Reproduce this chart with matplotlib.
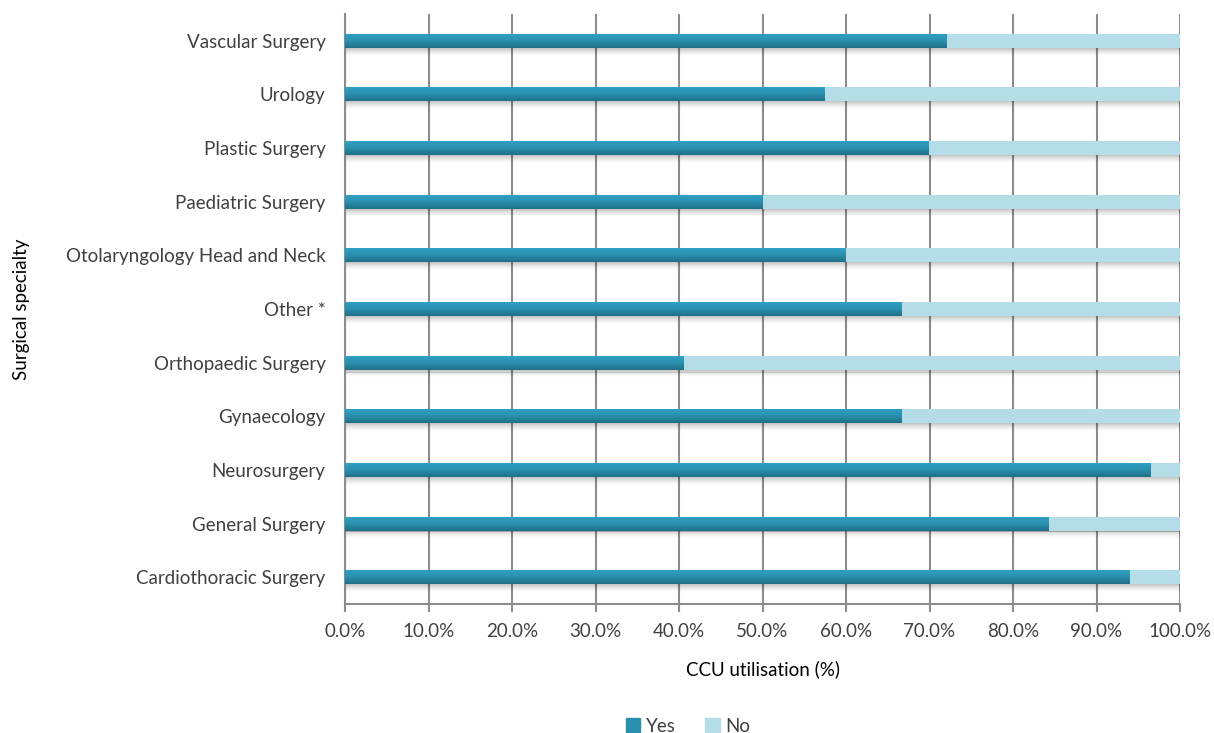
import numpy as np
import matplotlib.pyplot as plt
import matplotlib.ticker as ticker
from matplotlib.patches import Patch
from matplotlib.colors import LinearSegmentedColormap

plt.rcParams['font.family'] = ['Lato', 'DejaVu Sans']

# data (bottom to top)
specialties = ['Cardiothoracic Surgery', 'General Surgery', 'Neurosurgery',
               'Gynaecology', 'Orthopaedic Surgery', 'Other *',
               'Otolaryngology Head and Neck', 'Paediatric Surgery',
               'Plastic Surgery', 'Urology', 'Vascular Surgery']
yes_pct = [94.0, 84.2, 96.5, 66.7, 40.5, 66.7, 60.0, 50.0, 69.9, 57.4, 72.0]
no_pct = [100 - v for v in yes_pct]

text_col = '#404040'
grid_col = '#8c8c8c'
yes_col = '#2a8fae'
no_col = '#b5dde7'

fig = plt.figure(figsize=(12.14, 7.33), dpi=100)
ax = fig.add_axes([345/1214, 1-604/733, (1180-345)/1214, (604-14)/733])

y = np.arange(len(specialties))
h = 0.26

# shadow under each bar
for k in range(8):
    ax.barh(y - h/2 - 0.018*k - 0.009, 100.3, height=0.019, left=0,
            color='#000000', alpha=0.22*(1 - k/8)**1.5, zorder=2, linewidth=0)

bars_yes = ax.barh(y, yes_pct, height=h, color=yes_col, zorder=3, linewidth=0)
bars_no = ax.barh(y, no_pct, left=yes_pct, height=h, color=no_col, zorder=3, linewidth=0)

# gradient on Yes bars (light top, dark bottom)
grad = np.linspace(0, 1, 64).reshape(-1, 1)
cmap = LinearSegmentedColormap.from_list('g', ['#2fa0c3', '#2a8fae', '#216f87'])
for p in bars_yes:
    x0, y0 = p.get_x(), p.get_y()
    im = ax.imshow(grad, cmap=cmap, aspect='auto', zorder=4,
                   extent=[x0, x0 + p.get_width(), y0, y0 + p.get_height()],
                   origin='upper')
    im.set_clip_path(p)

ax.set_xlim(0, 100)
ax.set_ylim(-0.5, len(specialties) - 0.5)
ax.set_yticks(y)
ax.set_yticklabels(specialties)
ax.xaxis.set_major_locator(ticker.MultipleLocator(10))
ax.xaxis.set_major_formatter(ticker.FuncFormatter(lambda v, p: '%.1f%%' % v))

ax.grid(True, axis='x', color=grid_col, linewidth=1.5, zorder=1)
ax.set_axisbelow(True)
for s in ['top', 'right']:
    ax.spines[s].set_visible(False)
for s in ['left', 'bottom']:
    ax.spines[s].set_color(grid_col)
    ax.spines[s].set_linewidth(1.5)
ax.tick_params(axis='x', colors=grid_col, length=6, width=1.5, labelcolor=text_col,
               labelsize=13.5, pad=8)
ax.tick_params(axis='y', length=0, labelcolor=text_col, labelsize=13.5, pad=14)

ax.set_xlabel('CCU utilisation (%)', fontsize=13.5, color='black', labelpad=14)
ax.set_ylabel('Surgical specialty', fontsize=13.5, color='black', labelpad=26)

handles = [Patch(color=yes_col, label='Yes'), Patch(color=no_col, label='No')]
fig.legend(handles=handles, loc='center', bbox_to_anchor=(688/1214, 1-726/733),
           ncol=2, frameon=False, fontsize=13.5, handlelength=0.75, handleheight=0.75,
           columnspacing=1.6, handletextpad=0.3, labelcolor=text_col)

fig.savefig('out.png', dpi=100)
